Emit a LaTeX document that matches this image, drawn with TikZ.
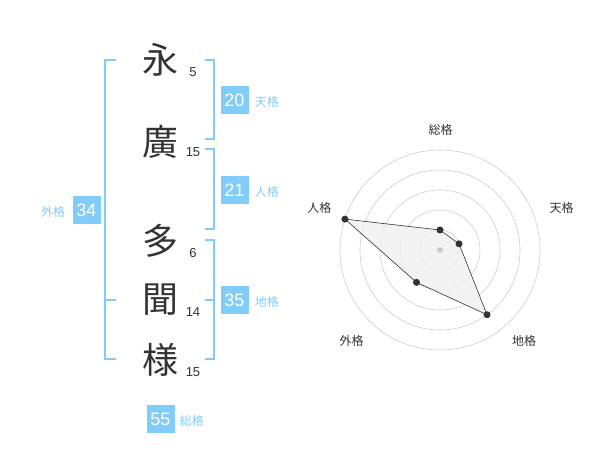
\documentclass[tikz,border=0pt]{standalone}
\usepackage{fontspec}
\setmainfont{Liberation Sans}
\newfontfamily\jpfont{Noto Sans CJK JP}
\usetikzlibrary{positioning}
\definecolor{kakublue}{RGB}{130,204,250}
\definecolor{inkgray}{RGB}{51,51,51}
\definecolor{ringgray}{RGB}{204,204,204}
\definecolor{areagray}{RGB}{240,240,240}

\begin{document}
\begin{tikzpicture}[x=1pt, y=-1pt,
  kanji/.style={inner sep=0pt, text=inkgray, font=\fontsize{36}{36}\selectfont\jpfont},
  strokes/.style={inner sep=0pt, text=inkgray, font=\fontsize{13}{13}\selectfont},
  bracket/.style={draw=kakublue, line width=2pt},
  kakubox/.style={fill=kakublue, text=white, inner sep=0pt, minimum size=28pt, font=\fontsize{18}{18}\selectfont},
  kakuname/.style={inner sep=0pt, text=kakublue, font=\fontsize{12}{12}\selectfont\jpfont},
  axisname/.style={inner sep=0pt, text=inkgray, font=\fontsize{12}{12}\selectfont\jpfont},
  ring/.style={draw=ringgray, line width=0.6pt},
  dot/.style={circle, fill=inkgray, inner sep=0pt, minimum size=7pt}]

\useasboundingbox (0,0) rectangle (600,470);

% Name characters
\node[kanji] (c1) at (160,60) {永};
\node[kanji] (c2) at (160,142) {廣};
\node[kanji] (c3) at (160,241) {多};
\node[kanji] (c4) at (160,300) {聞};
\node[kanji] (c5) at (160,360) {様};

% Stroke counts
\node[strokes] (s1) at (193,72) {5};
\node[strokes] (s2) at (193,152) {15};
\node[strokes] (s3) at (193,253) {6};
\node[strokes] (s4) at (193,312) {14};
\node[strokes] (s5) at (193,372) {15};

% Brackets
\draw[bracket] (116,60) -- (105,60) -- (105,359) -- (116,359);
\draw[bracket] (105,300) -- (116,300);

\draw[bracket] (205,60) -- (214,60) -- (214,139) -- (205,139);
\draw[bracket] (205,149) -- (214,149) -- (214,229) -- (205,229);
\draw[bracket] (205,240) -- (214,240) -- (214,359) -- (205,359);
\draw[bracket] (205,300) -- (214,300);

% Results
\node[kakubox] (ten) at (234.5,100) {20};
\node[kakuname, right=6pt of ten, yshift=-2pt] (tenlabel) {天格};
\node[kakubox] (jin) at (234.5,190) {21};
\node[kakuname, right=6pt of jin, yshift=-2pt] (jinlabel) {人格};
\node[kakubox] (chi) at (234.5,300) {35};
\node[kakuname, right=6pt of chi, yshift=-2pt] (chilabel) {地格};
\node[kakubox] (gai) at (86.5,210) {34};
\node[kakuname, left=7pt of gai, yshift=-2pt] (gailabel) {外格};
\node[kakubox] (sou) at (160.5,419) {55};
\node[kakuname, right=5pt of sou, yshift=-2pt] (soulabel) {総格};

% Radar chart
\begin{scope}[shift={(440,250)}, y=1pt]
  \foreach \r in {20,40,60,80,100}
    \draw[ring] (0,0) circle[radius=\r];
  \coordinate (rsou) at (90:20);
  \coordinate (rten) at (18:20);
  \coordinate (rchi) at (-54:80);
  \coordinate (rgai) at (-126:40);
  \coordinate (rjin) at (162:100);
  \fill[areagray, opacity=0.8] (rsou) -- (rten) -- (rchi) -- (rgai) -- (rjin) -- cycle;
  \draw[inkgray, line width=0.6pt] (rsou) -- (rten) -- (rchi) -- (rgai) -- (rjin) -- cycle;
  \foreach \p in {rsou,rten,rchi,rgai,rjin}
    \node[dot] at (\p) {};
  \fill[ringgray] (0,0) circle[radius=3];
  \node[axisname] (asou) at (0.7,120) {総格};
  \node[axisname] (aten) at (121.7,41.7) {天格};
  \node[axisname] (achi) at (84,-91) {地格};
  \node[axisname] (agai) at (-88.3,-91) {外格};
  \node[axisname] (ajin) at (-120.7,41.7) {人格};
\end{scope}
\end{tikzpicture}
\end{document}
